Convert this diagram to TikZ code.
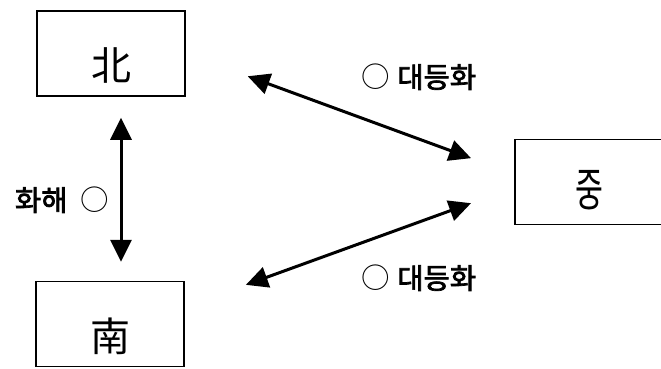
\documentclass[tikz,border=0pt]{standalone}
\usepackage{fontspec}
\newfontfamily\kr{Noto Sans CJK KR}
\newfontfamily\krb{Noto Sans CJK KR}[FakeBold=2.5]
\usetikzlibrary{arrows.meta}

\begin{document}
\begin{tikzpicture}[x=1pt,y=-1pt,
  box/.style={draw,line width=1.5pt,minimum width=148pt,minimum height=85pt,inner sep=0pt,
    text height=54pt,text depth=0pt,font=\kr\fontsize{40}{40}\selectfont},
  tag/.style={font=\krb\fontsize{28.5}{28.5}\selectfont,inner sep=0pt},
  both/.style={line width=3pt,{Triangle[length=\l,width=\w]}-{Triangle[length=\l,width=\w]}}]
\def\l{22pt}
\def\w{21pt}
\def\o{{\kr ○}}
\useasboundingbox (0,0) rectangle (661,368);
% the three sides
\node [box, name=nb] at (111,53.5) {北};
\node [box, name=sb] at (110,324) {南};
\node [box, name=jg, text height=48pt] at (589,182) {\scalebox{0.66}[1]{\fontsize{46}{46}\selectfont 중}};
% relations
\draw [both, shorten <=21pt, shorten >=19pt] ([xshift=10pt]nb.south) -- ([xshift=11pt]sb.north);
\draw [both, shorten <=66pt, shorten >=46pt] (nb.east) -- ([yshift=8pt]jg.west);
\draw [both, shorten <=46pt, shorten >=65pt] ([yshift=-5.5pt]jg.west) -- ([yshift=17pt]sb.east);
\node [tag, name=t1] at (419,77) {\o\hspace{7pt}대등화};
\node [tag, name=t2] at (419,278) {\o\hspace{7pt}대등화};
\node [tag, name=t3] at (62,200) {화해\hspace{13pt}\o};
\end{tikzpicture}
\end{document}
